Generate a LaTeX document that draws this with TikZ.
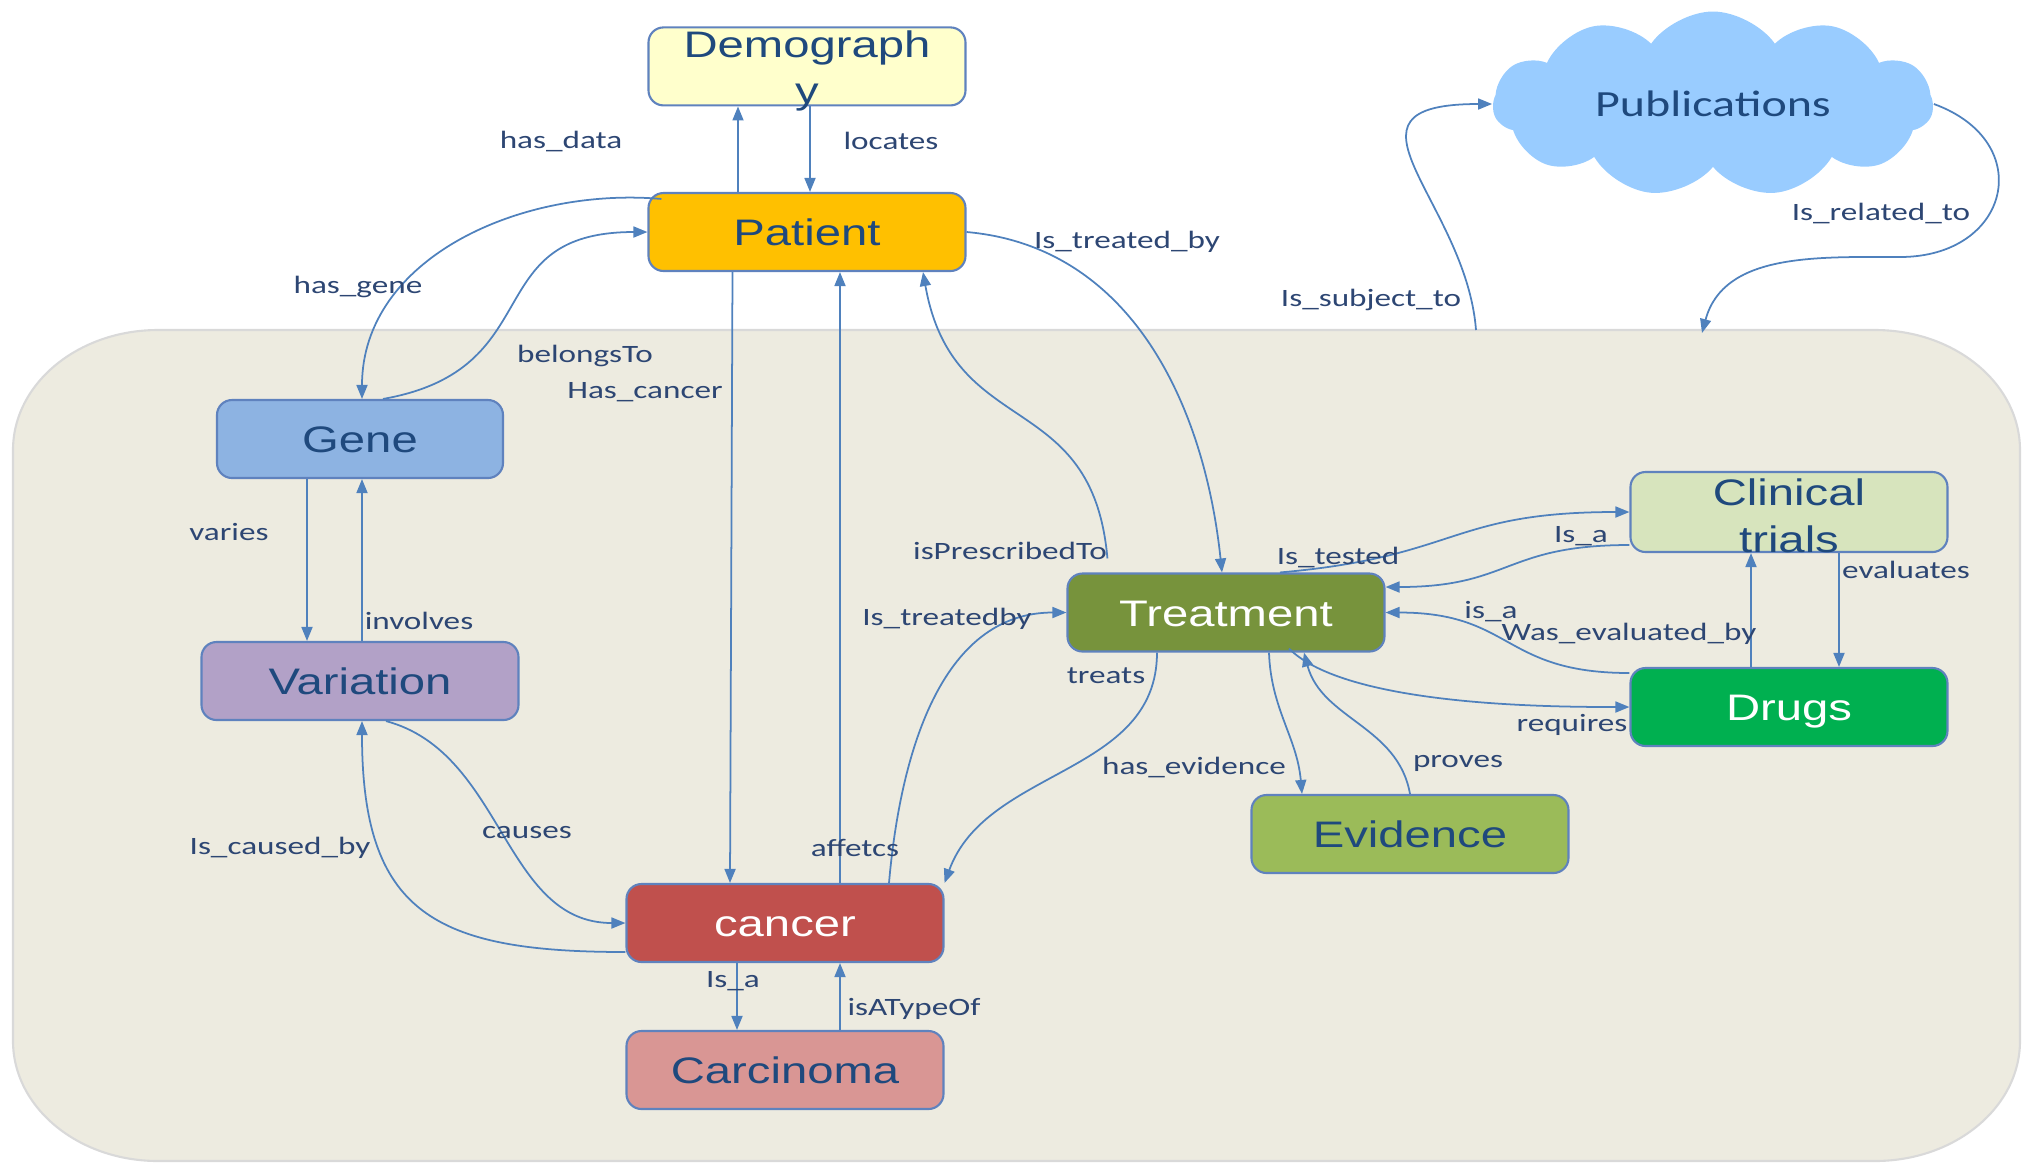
\documentclass[tikz,border=0pt]{standalone}
\usepackage{fontspec}
\usepackage{xcolor}
\usepackage{tikz}
\usetikzlibrary{calc,arrows.meta,shapes.symbols}
\newfontfamily\boxfont[FakeStretch=1.28]{Liberation Sans}
\newfontfamily\lblfont[FakeStretch=1.33]{Carlito}
\newfontfamily\cloudfont[FakeStretch=1.3]{Carlito}
\definecolor{txtblue}{RGB}{31,73,125}
\definecolor{lblblue}{RGB}{45,70,115}
\definecolor{boxline}{RGB}{95,130,190}
\definecolor{arrowblue}{RGB}{79,129,189}
\definecolor{regionfill}{RGB}{237,235,224}
\definecolor{demofill}{RGB}{255,255,204}
\definecolor{patfill}{RGB}{255,192,0}
\definecolor{genefill}{RGB}{141,179,226}
\definecolor{varfill}{RGB}{178,161,199}
\definecolor{cancfill}{RGB}{192,80,77}
\definecolor{carcfill}{RGB}{217,150,148}
\definecolor{treatfill}{RGB}{119,147,60}
\definecolor{clinfill}{RGB}{215,228,189}
\definecolor{drugfill}{RGB}{0,176,80}
\definecolor{evidfill}{RGB}{155,187,89}
\definecolor{pubfill}{RGB}{153,204,255}
\newcommand{\twolines}[2]{\begin{tabular}[b]{@{}c@{}}#1\\#2\end{tabular}}
\tikzset{
    entity/.style={draw=boxline, line width=0.6pt, rounded corners=0.15cm,
        minimum width=3.17cm, minimum height=0.78cm, inner sep=0pt,
        text height=0.27cm, text depth=0cm, text=txtblue,
        font=\boxfont\fontsize{10.5}{13.1}\selectfont},
    relation/.style={draw=arrowblue, line width=0.5pt, -{Triangle[length=0.14cm,width=0.11cm]}},
    rellabel/.style={text=lblblue, inner sep=0pt, font=\lblfont\fontsize{7.1}{8.5}\selectfont},
}

\begin{document}
\begin{tikzpicture}
        \useasboundingbox (0,0) rectangle (20.22,-11.65);

        % region
        \filldraw[fill=regionfill, draw=black!15, line width=0.6pt]
            (1.58,-3.30) -- (18.75,-3.30) arc[start angle=90,end angle=0,x radius=1.45,y radius=1.2]
            -- (20.20,-10.41) arc[start angle=0,end angle=-90,x radius=1.45,y radius=1.2]
            -- (1.58,-11.61) arc[start angle=270,end angle=180,x radius=1.45,y radius=1.2]
            -- (0.13,-4.50) arc[start angle=180,end angle=90,x radius=1.45,y radius=1.2] -- cycle;

        % coordinates
        \coordinate (cDemo) at (8.07,-0.664);
        \coordinate (cPat) at (8.07,-2.32);
        \coordinate (cGene) at (3.60,-4.39);
        \coordinate (cVar) at (3.60,-6.81);
        \coordinate (cCanc) at (7.85,-9.23);
        \coordinate (cCarc) at (7.85,-10.70);
        \coordinate (cTreat) at (12.26,-6.125);
        \coordinate (cClin) at (17.89,-5.12);
        \coordinate (cDrug) at (17.89,-7.07);
        \coordinate (cEvid) at (14.10,-8.34);
        \coordinate (cPub) at (17.13,-1.04);
        \coordinate (subj) at (14.76,-3.30);
        \coordinate (relt) at (17.02,-3.33);
        \coordinate (bend) at (19.00,-2.57);

        % entities
        \node[entity, fill=demofill, text height=0.746cm] (demo) at (cDemo) {\twolines{Demograph}{y}};
        \node[entity, fill=patfill] (pat) at (cPat) {Patient};
        \node[entity, fill=genefill, minimum width=2.86cm] (gene) at (cGene) {Gene};
        \node[entity, fill=varfill] (var) at (cVar) {Variation};
        \node[entity, fill=cancfill, text=white] (canc) at (cCanc) {cancer};
        \node[entity, fill=carcfill] (carc) at (cCarc) {Carcinoma};
        \node[entity, fill=treatfill, text=white] (treat) at (cTreat) {Treatment};
        \node[entity, fill=clinfill, text height=0.80cm] (clin) at (cClin) {\twolines{Clinical}{trials}};
        \node[entity, fill=drugfill, text=white] (drug) at (cDrug) {Drugs};
        \node[entity, fill=evidfill] (evid) at (cEvid) {Evidence};
        \node[cloud, cloud puffs=11, cloud puff arc=110, aspect=2.4, fill=pubfill, draw=none,
            minimum width=4.4cm, minimum height=1.85cm, inner sep=0pt, text=txtblue,
            font=\cloudfont\fontsize{10.5}{12}\selectfont] (pub) at (cPub) {Publications};

        % relations
        \draw[relation] ([xshift=-0.69cm]pat.north) -- ([xshift=-0.69cm]demo.south);
        \draw[relation] ([xshift=0.03cm]demo.south) -- ([xshift=0.03cm]pat.north);
        \draw[relation] ([xshift=0.14cm,yshift=-0.07cm]pat.north west) to[out=175,in=90] ([xshift=0.02cm]gene.north);
        \draw[relation] ([xshift=0.23cm]gene.north) to[out=10,in=180,looseness=1.4] (pat.west);
        \draw[relation] ([xshift=-0.745cm]pat.south) -- ([xshift=-0.55cm]canc.north);
        \draw[relation] ([xshift=0.55cm]canc.north) -- ([xshift=0.33cm]pat.south);
        \draw[relation] ([xshift=0.41cm,yshift=0.14cm]treat.north west) to[out=95,in=-80,looseness=1.3] ([xshift=1.16cm]pat.south);
        \draw[relation] (pat.east) to[out=-5,in=96] ([xshift=-0.04cm]treat.north);

        % relations, publications
        \draw[relation] (subj) .. controls +(-0.1,1.3) and +(-1.7,0) .. (pub.west);
        \draw[relation] (pub.east) to[out=-20,in=0,looseness=1.8] (bend) to[out=180,in=75] (relt);

        % relations, treatment
        \draw[relation] ([xshift=0.54cm]treat.north) to[out=5,in=180,looseness=1.3] (clin.west);
        \draw[relation] ([yshift=-0.33cm]clin.west) to[out=180,in=0,looseness=1.3] ([yshift=0.255cm]treat.east);
        \draw[relation] ([yshift=0.34cm]drug.west) to[out=180,in=0,looseness=1.3] (treat.east);
        \draw[relation] ([xshift=-0.38cm]drug.north) -- ([xshift=-0.38cm]clin.south);
        \draw[relation] ([xshift=0.5cm]clin.south) -- ([xshift=0.5cm]drug.north);
        \draw[relation] ([xshift=0.63cm,yshift=0.04cm]treat.south) to[out=-45,in=180,looseness=0.6] (drug.west);
        \draw[relation] ([xshift=0.43cm]treat.south) to[out=-88,in=95] ([xshift=-1.08cm]evid.north);
        \draw[relation] (evid.north) to[out=100,in=-75] ([xshift=0.78cm]treat.south);
        \draw[relation] ([xshift=-0.69cm]treat.south) to[out=-90,in=70] (canc.north east);
        \draw[relation] ([xshift=1.04cm]canc.north) to[out=85,in=180] (treat.west);

        % relations, gene and cancer
        \draw[relation] ([xshift=-0.53cm]gene.south) -- ([xshift=-0.53cm]var.north);
        \draw[relation] ([xshift=0.02cm]var.north) -- ([xshift=0.02cm]gene.south);
        \draw[relation] ([xshift=0.26cm]var.south) to[out=-15,in=180] (canc.west);
        \draw[relation] ([yshift=-0.29cm]canc.west) to[out=180,in=-90,looseness=1.4] ([xshift=0.02cm]var.south);
        \draw[relation] ([xshift=-0.48cm]canc.south) -- ([xshift=-0.48cm]carc.north);
        \draw[relation] ([xshift=0.55cm]carc.north) -- ([xshift=0.55cm]canc.south);

        % Text
        \node[rellabel] (lHasData) at (5.61,-1.41) {has\_data};
        \node[rellabel] (lLocates) at (8.91,-1.41) {locates};
        \node[rellabel] (lHasGene) at (3.58,-2.87) {has\_gene};
        \node[rellabel] (lBelongs) at (5.85,-3.56) {belongsTo};
        \node[rellabel] (lHasCanc) at (6.45,-3.92) {Has\_cancer};
        \node[rellabel] (lTreatedBy) at (11.27,-2.42) {Is\_treated\_by};
        \node[rellabel] (lSubject) at (13.71,-3.00) {Is\_subject\_to};
        \node[rellabel] (lRelated) at (18.81,-2.13) {Is\_related\_to};
        \node[rellabel] (lPrescr) at (10.10,-5.51) {isPrescribedTo};
        \node[rellabel] (lTested) at (13.38,-5.57) {Is\_tested};
        \node[rellabel] (lIsaClin) at (15.81,-5.36) {Is\_a};
        \node[rellabel] (lIsaDrug) at (14.91,-6.12) {is\_a};
        \node[rellabel] (lEvalBy) at (16.29,-6.34) {Was\_evaluated\_by};
        \node[rellabel] (lEvaluates) at (19.06,-5.70) {evaluates};
        \node[rellabel] (lTreatedby) at (9.47,-6.19) {Is\_treatedby};
        \node[rellabel] (lTreats) at (11.06,-6.76) {treats};
        \node[rellabel] (lHasEvid) at (11.94,-7.67) {has\_evidence};
        \node[rellabel] (lProves) at (14.58,-7.63) {proves};
        \node[rellabel] (lRequires) at (15.72,-7.25) {requires};
        \node[rellabel] (lVaries) at (2.29,-5.32) {varies};
        \node[rellabel] (lInvolves) at (4.19,-6.21) {involves};
        \node[rellabel] (lCauses) at (5.27,-8.33) {causes};
        \node[rellabel] (lCausedBy) at (2.80,-8.48) {Is\_caused\_by};
        \node[rellabel] (lAffects) at (8.55,-8.48) {affetcs};
        \node[rellabel] (lIsaCanc) at (7.33,-9.81) {Is\_a};
        \node[rellabel] (lTypeOf) at (9.14,-10.09) {isATypeOf};

    \end{tikzpicture}
\end{document}
